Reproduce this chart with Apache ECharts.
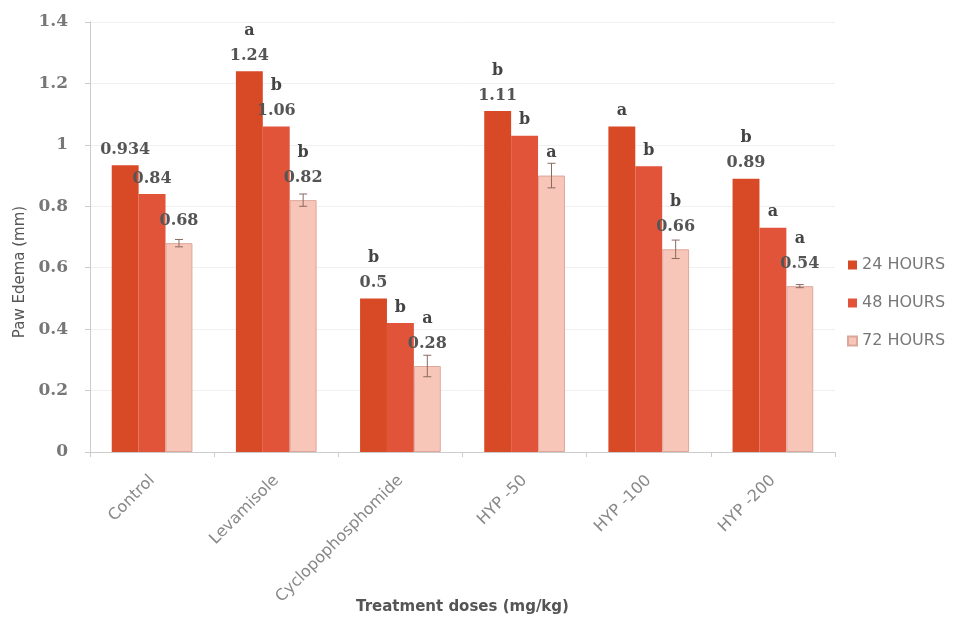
<!DOCTYPE html>
<html>
<head>
<meta charset="utf-8">
<script src="https://cdn.jsdelivr.net/npm/echarts@6/dist/echarts.min.js"></script>
<style>
  html, body { margin: 0; padding: 0; background: #fff; }
  #chart { width: 964px; height: 619px; }
</style>
</head>
<body>
<div id="chart"></div>
<script>
var categories = ['Control', 'Levamisole', 'Cyclopophosphomide', 'HYP -50', 'HYP -100', 'HYP -200'];
var seriesNames = ['24 HOURS', '48 HOURS', '72 HOURS'];
var h24 = [0.934, 1.24, 0.5, 1.11, 1.06, 0.89];
var h48 = [0.84, 1.06, 0.42, 1.03, 0.93, 0.73];
var h72 = [0.68, 0.82, 0.28, 0.90, 0.66, 0.54];
var err72 = [0.012, 0.02, 0.035, 0.04, 0.03, 0.005];
// significance letters and printed values ('' = none shown)
var letters24 = ['', 'a', 'b', 'b', 'a', 'b'];
var letters48 = ['', 'b', 'b', 'b', 'b', 'a'];
var letters72 = ['', 'b', 'a', 'a', 'b', 'a'];
var shown24 = ['0.934', '1.24', '0.5', '1.11', '', '0.89'];
var shown48 = ['0.84', '1.06', '', '', '', ''];
var shown72 = ['0.68', '0.82', '0.28', '', '0.66', '0.54'];
var yTicks = [0, 0.2, 0.4, 0.6, 0.8, 1, 1.2, 1.4];

var colors = ['#d84a26', '#e2543a', '#f8c6b8'];
var serif = '"DejaVu Serif", "Liberation Serif", serif';
var sans = '"DejaVu Sans", "Noto Sans", sans-serif';

function makeLabel (letters, shown, hasErr) {
    return {
        show: true,
        position: 'top',
        distance: hasErr ? 10 : 3,
        lineHeight: 25,
        formatter: function (p) {
            var out = [];
            if (letters[p.dataIndex]) out.push('{l|' + letters[p.dataIndex] + '}');
            if (shown[p.dataIndex]) out.push('{v|' + shown[p.dataIndex] + '}');
            return out.join('\n');
        },
        rich: {
            l: { fontFamily: serif, fontSize: 16, fontWeight: 'bold', color: '#444', lineHeight: 25 },
            v: { fontFamily: serif, fontSize: 16, fontWeight: 'bold', color: '#555', lineHeight: 25 }
        }
    };
}

var chart = echarts.init(document.getElementById('chart'));
var option = {
    animation: false,
    backgroundColor: '#fff',
    grid: { left: 90, right: 129, top: 22, bottom: 167, outerBoundsMode: 'none', containLabel: false },
    legend: {
        orient: 'vertical',
        left: 842,
        top: 252,
        itemWidth: 9,
        itemHeight: 9,
        itemGap: 22,
        icon: 'rect',
        textStyle: { fontFamily: sans, fontSize: 16, color: '#777' },
        data: seriesNames
    },
    xAxis: {
        type: 'category',
        data: categories,
        name: 'Treatment doses (mg/kg)',
        nameLocation: 'middle',
        nameGap: 148,
        nameMoveOverlap: false,
        nameTextStyle: { fontFamily: sans, fontSize: 15, fontWeight: 'bold', color: '#555' },
        axisLine: { lineStyle: { color: '#ccc' } },
        axisTick: { show: true, lineStyle: { color: '#ccc' } },
        axisLabel: { rotate: 45, interval: 0, margin: 26, fontFamily: sans, fontSize: 16, color: '#888' }
    },
    yAxis: {
        type: 'value',
        min: yTicks[0],
        max: yTicks[yTicks.length - 1],
        interval: 0.2,
        name: 'Paw Edema (mm)',
        nameLocation: 'middle',
        nameGap: 62,
        nameMoveOverlap: false,
        nameTextStyle: { fontFamily: sans, fontSize: 15, color: '#555', padding: [0, 70, 0, 0] },
        axisLine: { show: true, lineStyle: { color: '#ccc' } },
        axisTick: { show: true, lineStyle: { color: '#ccc' } },
        splitLine: { lineStyle: { color: '#f0f0f0' } },
        axisLabel: {
            margin: 22, fontFamily: serif, fontSize: 17, fontWeight: 'bold', color: '#777',
            formatter: function (v) { return String(Math.round(v * 10) / 10); }
        }
    },
    series: [
        {
            name: seriesNames[0], type: 'bar', data: h24, barGap: '0%', barCategoryGap: '35%',
            itemStyle: { color: colors[0] },
            label: makeLabel(letters24, shown24, false)
        },
        {
            name: seriesNames[1], type: 'bar', data: h48,
            itemStyle: { color: colors[1] },
            label: makeLabel(letters48, shown48, false)
        },
        {
            name: seriesNames[2], type: 'bar', data: h72,
            itemStyle: { color: colors[2], borderColor: '#dca79b', borderWidth: 1 },
            label: makeLabel(letters72, shown72, true)
        },
        {
            name: 'err', type: 'custom', z: 5,
            data: h72.map(function (v, i) { return [i, v, err72[i]]; }),
            renderItem: function (params, api) {
                var i = api.value(0);
                var v = api.value(1);
                var e = api.value(2);
                var band = api.size([1, 0])[0];
                var bw = band * 0.65 / 3;
                var base = api.coord([i, v]);
                var x = base[0] + bw;
                var top = api.coord([i, v + e])[1];
                var bot = api.coord([i, Math.max(v - e, 0)])[1];
                var style = { stroke: '#8a6a60', lineWidth: 1 };
                return {
                    type: 'group',
                    children: [
                        { type: 'line', shape: { x1: x, y1: top, x2: x, y2: bot }, style: style },
                        { type: 'line', shape: { x1: x - 4, y1: top, x2: x + 4, y2: top }, style: style },
                        { type: 'line', shape: { x1: x - 4, y1: bot, x2: x + 4, y2: bot }, style: style }
                    ]
                };
            }
        }
    ]
};
chart.setOption(option);
</script>
</body>
</html>
